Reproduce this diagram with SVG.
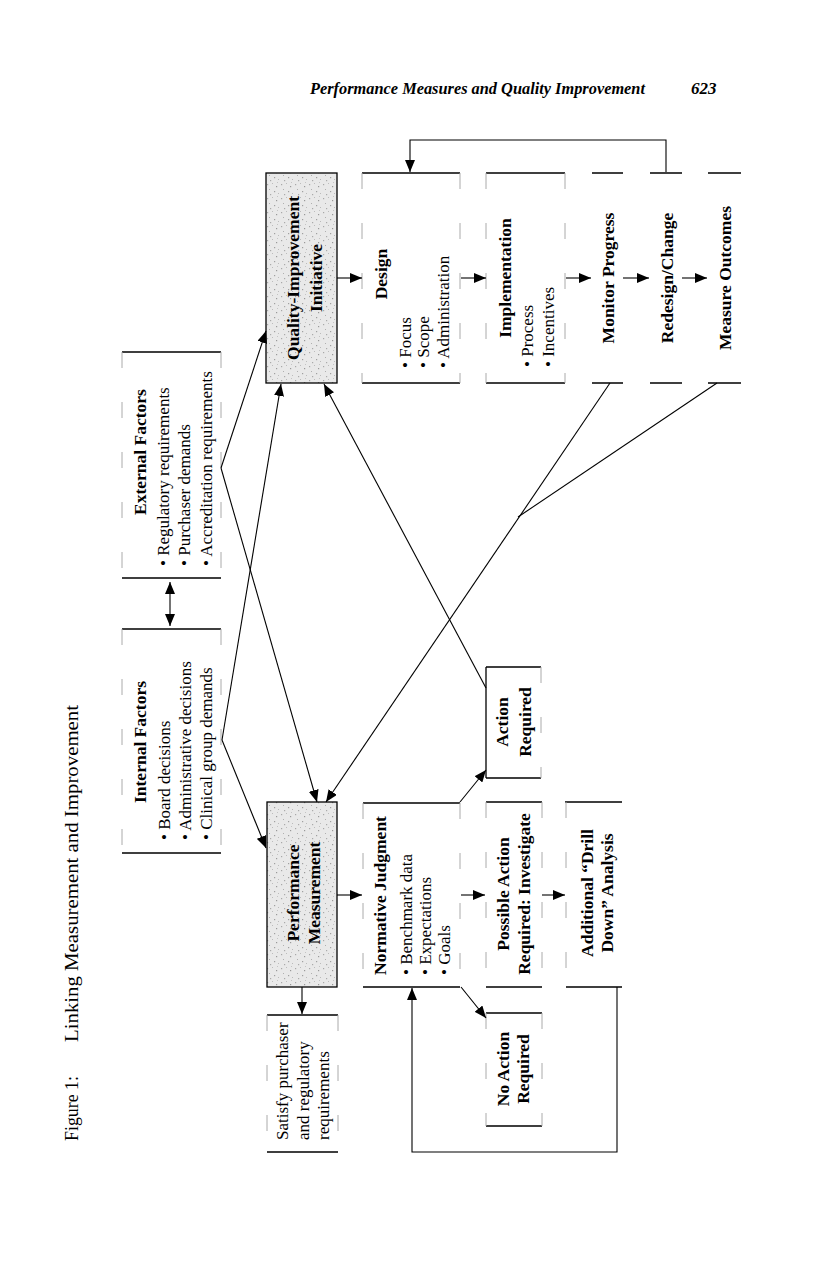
<svg xmlns="http://www.w3.org/2000/svg" width="816" height="1272" viewBox="0 0 816 1272">
<defs>
<marker id="ah" viewBox="0 0 12 10" refX="12" refY="5" markerWidth="12" markerHeight="10" markerUnits="userSpaceOnUse" orient="auto-start-reverse"><path d="M0,0 L12,5 L0,10 z" fill="#000"/></marker>
<pattern id="stip" width="14" height="14" patternUnits="userSpaceOnUse">
<rect width="14" height="14" fill="#e9e9e9"/>
<rect x="1" y="2" width="1.2" height="1.2" fill="#a8a8a8"/>
<rect x="6" y="1" width="1" height="1" fill="#bcbcbc"/>
<rect x="10" y="4" width="1.2" height="1.2" fill="#999"/>
<rect x="3" y="7" width="1" height="1" fill="#b0b0b0"/>
<rect x="8" y="9" width="1.2" height="1.2" fill="#a0a0a0"/>
<rect x="12" y="11" width="1" height="1" fill="#bbb"/>
<rect x="4" y="12" width="1.2" height="1.2" fill="#aaa"/>
<rect x="11" y="0" width="1" height="1" fill="#c4c4c4"/>
</pattern>
<style>
.t{font-family:"Liberation Serif","DejaVu Serif",serif;fill:#000}
.b{font-weight:bold;font-size:17.5px}
.r{font-size:17px}
.c{text-anchor:middle;dominant-baseline:central}
.s{text-anchor:start;dominant-baseline:central}
.h{stroke:#000;stroke-width:1.3;fill:none}
.v{stroke:#aaa;stroke-width:1;stroke-dasharray:16 34;fill:none}
.box{stroke:#000;stroke-width:1.3;fill:url(#stip)}
.ln{stroke:#000;stroke-width:1.1;fill:none}
.ar{stroke:#000;stroke-width:1.1;fill:none;marker-end:url(#ah)}
</style>
</defs>
<rect width="816" height="1272" fill="#fff"/>

<g id="header">
<text class="t" x="310" y="94" font-size="17" font-style="italic" font-weight="bold" textLength="335" lengthAdjust="spacingAndGlyphs">Performance Measures and Quality Improvement</text>
<text class="t" x="691" y="94" font-size="17" font-style="italic" font-weight="bold">623</text>
</g>

<g id="title">
<text class="t" transform="translate(78,1141) rotate(-90)" font-size="19" textLength="65" lengthAdjust="spacingAndGlyphs">Figure 1:</text>
<text class="t" transform="translate(78,1042) rotate(-90)" font-size="19" textLength="337" lengthAdjust="spacingAndGlyphs">Linking Measurement and Improvement</text>
</g>

<g id="external-factors">
<path class="h" d="M122,352 H221 M122,578 H221"/>
<path class="v" d="M122,352 V578 M221,352 V578"/>
<text class="t b c" transform="translate(140,452) rotate(-90)">External Factors</text>
<text class="t r s" transform="translate(163,566) rotate(-90)">• Regulatory requirements</text>
<text class="t r s" transform="translate(184,566) rotate(-90)">• Purchaser demands</text>
<text class="t r s" transform="translate(206,566) rotate(-90)">• Accreditation requirements</text>
</g>

<g id="internal-factors">
<path class="h" d="M122,629 H221 M122,853 H221"/>
<path class="v" d="M122,629 V853 M221,629 V853"/>
<text class="t b c" transform="translate(140,742) rotate(-90)">Internal Factors</text>
<text class="t r s" transform="translate(164,840) rotate(-90)">• Board decisions</text>
<text class="t r s" transform="translate(185,840) rotate(-90)">• Administrative decisions</text>
<text class="t r s" transform="translate(206,840) rotate(-90)">• Clinical group demands</text>
</g>

<g id="qi-initiative">
<rect class="box" x="266" y="173" width="71" height="210"/>
<text class="t b c" transform="translate(293,278) rotate(-90)">Quality-Improvement</text>
<text class="t b c" transform="translate(316,278) rotate(-90)">Initiative</text>
</g>

<g id="design">
<path class="h" d="M362,173 H460 M362,383 H460"/>
<path class="v" d="M362,173 V383 M460,173 V383"/>
<text class="t b c" transform="translate(381,274) rotate(-90)">Design</text>
<text class="t r s" transform="translate(405,368) rotate(-90)">• Focus</text>
<text class="t r s" transform="translate(423,368) rotate(-90)">• Scope</text>
<text class="t r s" transform="translate(443,368) rotate(-90)">• Administration</text>
</g>

<g id="implementation">
<path class="h" d="M486,173 H565 M486,383 H565"/>
<path class="v" d="M486,173 V383 M565,173 V383"/>
<text class="t b c" transform="translate(505,278) rotate(-90)">Implementation</text>
<text class="t r s" transform="translate(527,367) rotate(-90)">• Process</text>
<text class="t r s" transform="translate(548,367) rotate(-90)">• Incentives</text>
</g>

<g id="monitor-progress">
<path class="h" d="M592,173 H623 M592,383 H623"/>
<text class="t b c" transform="translate(608,278) rotate(-90)">Monitor Progress</text>
</g>

<g id="redesign-change">
<path class="h" d="M650,173 H682 M650,383 H682"/>
<text class="t b c" transform="translate(667,278) rotate(-90)">Redesign/Change</text>
</g>

<g id="measure-outcomes">
<path class="h" d="M708,173 H741 M708,383 H741"/>
<text class="t b c" transform="translate(725,278) rotate(-90)">Measure Outcomes</text>
</g>

<g id="performance-measurement">
<rect class="box" x="267" y="802" width="70" height="185"/>
<text class="t b c" transform="translate(293,893) rotate(-90)">Performance</text>
<text class="t b c" transform="translate(314,893) rotate(-90)">Measurement</text>
</g>

<g id="normative-judgment">
<path class="h" d="M363,803 H460 M363,987 H460"/>
<path class="v" d="M363,803 V987 M460,803 V987"/>
<text class="t b s" transform="translate(380,975) rotate(-90)">Normative Judgment</text>
<text class="t r s" transform="translate(406,975) rotate(-90)">• Benchmark data</text>
<text class="t r s" transform="translate(425,975) rotate(-90)">• Expectations</text>
<text class="t r s" transform="translate(444,975) rotate(-90)">• Goals</text>
</g>

<g id="action-required">
<path class="h" d="M486,667 H541 M486,778 H541 M486,667 V778"/>
<path class="v" d="M541,667 V778"/>
<text class="t b c" transform="translate(502,722) rotate(-90)">Action</text>
<text class="t b c" transform="translate(525,722) rotate(-90)">Required</text>
</g>

<g id="possible-action">
<path class="h" d="M486,802 H542 M486,987 H542"/>
<path class="v" d="M486,802 V987 M542,802 V987"/>
<text class="t b c" transform="translate(503,894) rotate(-90)">Possible Action</text>
<text class="t b c" transform="translate(524,894) rotate(-90)">Required: Investigate</text>
</g>

<g id="drill-down">
<path class="h" d="M565,802 H622 M566,987 H622"/>
<path class="v" d="M566,802 V987"/>
<text class="t b c" transform="translate(587,893) rotate(-90)">Additional “Drill</text>
<text class="t b c" transform="translate(607,893) rotate(-90)">Down” Analysis</text>
</g>

<g id="no-action">
<path class="h" d="M486,1013 H542 M486,1126 H542"/>
<path class="v" d="M486,1013 V1126 M542,1013 V1126"/>
<text class="t b c" transform="translate(503,1069) rotate(-90)">No Action</text>
<text class="t b c" transform="translate(523,1069) rotate(-90)">Required</text>
</g>

<g id="satisfy">
<path class="h" d="M267,1015 H338 M267,1152 H338"/>
<path class="v" d="M267,1015 V1152 M338,1015 V1152"/>
<text class="t r s" transform="translate(282,1140) rotate(-90)">Satisfy purchaser</text>
<text class="t r s" transform="translate(303,1140) rotate(-90)">and regulatory</text>
<text class="t r s" transform="translate(323,1140) rotate(-90)">requirements</text>
</g>

<g id="connectors">
<path class="ar" d="M337,278 L362,278"/>
<path class="ar" d="M461,278 L486,278"/>
<path class="ar" d="M566,278 L591,278"/>
<path class="ar" d="M623,278 L649,278"/>
<path class="ar" d="M682,278 L707,278"/>
<path class="ar" d="M666,172 L666,140 L410,140 L410,172"/>
<path class="ar" d="M221,468 L266,331"/>
<path class="ar" d="M221,468 L317,802"/>
<path class="ar" d="M222,740 L281,384"/>
<path class="ar" d="M222,740 L266,848"/>
<path class="ar" d="M486,688 L324,384"/>
<path class="ar" d="M610,383 L326,802"/>
<path class="ln" d="M717,383 L518,517"/>
<path class="ar" d="M337,895 L362,895"/>
<path class="ar" d="M302,987 L302,1014"/>
<path class="ar" d="M460,802 L486,770"/>
<path class="ar" d="M461,895 L485,895"/>
<path class="ar" d="M542,895 L565,895"/>
<path class="ar" d="M461,987 L486,1018"/>
<path class="ar" d="M617,987 L617,1152 L412,1152 L412,988"/>
<path class="ar" d="M170,582 L170,626" marker-start="url(#ah)"/>
</g>
</svg>
